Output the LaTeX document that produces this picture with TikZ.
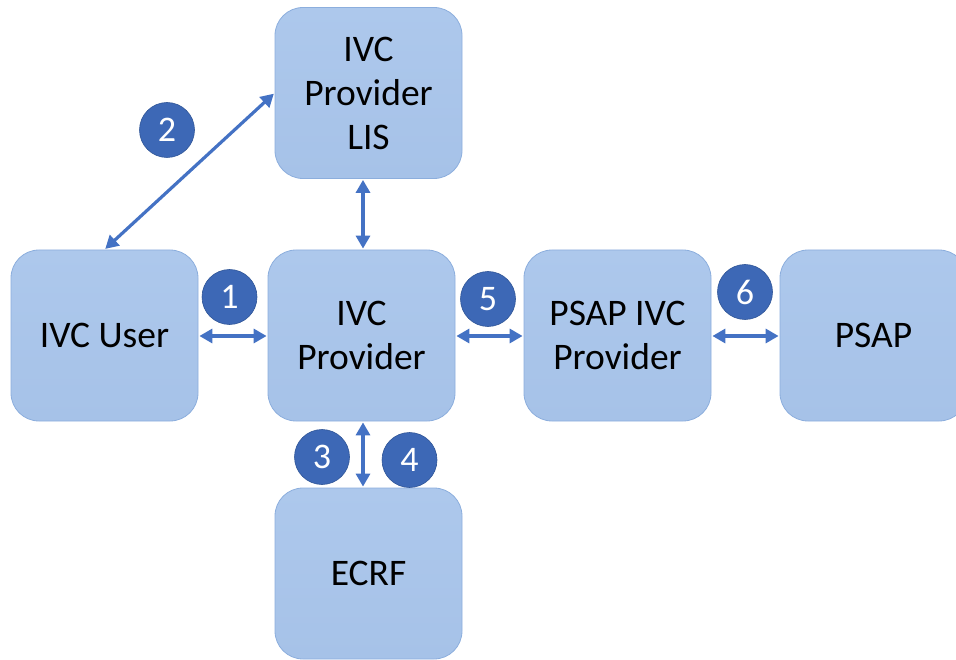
\documentclass[tikz,border=0pt]{standalone}
\usepackage{fontspec}
\setmainfont{Carlito}
\usetikzlibrary{arrows.meta}
\definecolor{boxtop}{HTML}{ADC8EC}
\definecolor{boxbot}{HTML}{A6C2E8}
\definecolor{boxline}{HTML}{8CAEDD}
\definecolor{badge}{HTML}{3D68B6}
\definecolor{badgeline}{HTML}{2F5597}
\definecolor{link}{HTML}{4472C4}
\tikzset{
  block/.style={rectangle, rounded corners=28pt, minimum width=187pt, minimum height=171pt,
    top color=boxtop, bottom color=boxbot, draw=boxline, line width=0.8pt,
    align=center, font=\fontsize{37.5}{44}\selectfont, text=black, inner sep=0pt},
  badgec/.style={circle, minimum size=55pt, inner sep=0pt, fill=badge, draw=badgeline,
    line width=0.6pt, text=white, font=\fontsize{36}{40}\selectfont},
  conn/.style={draw=link, line width=3.2pt,
    {Triangle[length=13pt,width=14pt]}-{Triangle[length=13pt,width=14pt]}, shorten <=1pt, shorten >=1pt}
}
\begin{document}
\begin{tikzpicture}[x=1pt,y=-1pt]
\useasboundingbox (0,0) rectangle (956,660);
\clip (0,0) rectangle (956,660);
% boxes
\node[block] (lis)  at (368.5,93)  {IVC\\Provider\\LIS};
\node[block] (user) at (104.5,335.5) {IVC User};
\node[block] (prov) at (361.5,335.5) {IVC\\Provider};
\node[block] (pivc) at (617.5,335.5) {PSAP IVC\\Provider};
\node[block] (psap) at (873.5,335.5) {PSAP};
\node[block] (ecrf) at (368.5,573.5) {ECRF};
% vertical axis of the LIS / ECRF links
\coordinate (vx) at (363,0);
\coordinate (hy) at (0,336);
% connectors
\draw[conn] (user.north) -- (lis.west);
\draw[conn] (user.east |- hy) -- (prov.west |- hy);
\draw[conn] (prov.east |- hy) -- (pivc.west |- hy);
\draw[conn] (pivc.east |- hy) -- (psap.west |- hy);
\draw[conn] (lis.south -| vx) -- (prov.north -| vx);
\draw[conn] (prov.south -| vx) -- (ecrf.north -| vx);
% numbered badges
\node[badgec] (b1) at (229.5,297) {1};
\node[badgec] (b2) at (167,130) {2};
\node[badgec] (b3) at (322,457) {3};
\node[badgec] (b4) at (409.5,460) {4};
\node[badgec] (b5) at (488,299) {5};
\node[badgec] (b6) at (745,292) {6};
\end{tikzpicture}
\end{document}
